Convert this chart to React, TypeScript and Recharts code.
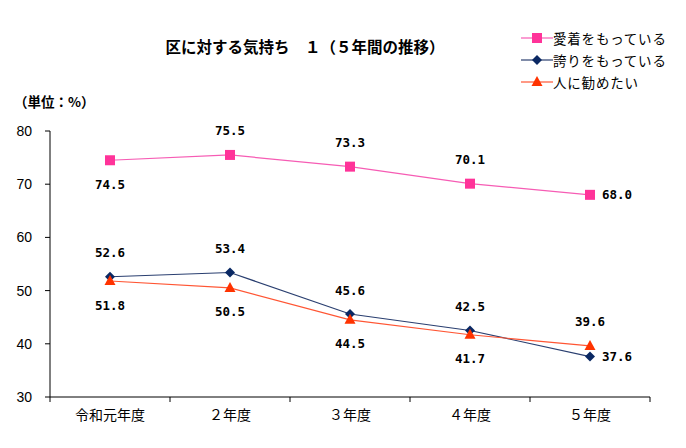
import React from 'react';
import { LineChart, Line, XAxis, YAxis, LabelList } from 'recharts';

const categories = ['令和元年度', '２年度', '３年度', '４年度', '５年度'];
const attachment = [74.5, 75.5, 73.3, 70.1, 68.0];
const pride = [52.6, 53.4, 45.6, 42.5, 37.6];
const recommend = [51.8, 50.5, 44.5, 41.7, 39.6];
const seriesNames = ['愛着をもっている', '誇りをもっている', '人に勧めたい'];
const yTicks = [30, 40, 50, 60, 70, 80];

const attachmentLabelPos = ['below', 'above', 'above', 'above', 'right'];
const prideLabelPos = ['above', 'above', 'above', 'above', 'right'];
const recommendLabelPos = ['below', 'below', 'below', 'below', 'above'];

const data = categories.map((c, i) => ({
  x: i + 0.5,
  name: c,
  attachment: attachment[i],
  pride: pride[i],
  recommend: recommend[i],
}));

const xTickValues = [0, 0.5, 1, 1.5, 2, 2.5, 3, 3.5, 4, 4.5, 5];

const PINK_LINE = '#f65cb4';
const PINK = '#ff3399';
const NAVY_LINE = '#2a3f70';
const NAVY = '#0a2863';
const RED_LINE = '#ff5533';
const RED = '#ff3300';

const JP = '"Noto Sans CJK JP", sans-serif';

const Square = (cx: number, cy: number, key?: any) => (
  <rect key={key} x={cx - 5} y={cy - 5} width={10} height={10} fill={PINK} />
);
const Diamond = (cx: number, cy: number, key?: any) => (
  <polygon key={key} points={`${cx},${cy - 5} ${cx + 5},${cy} ${cx},${cy + 5} ${cx - 5},${cy}`} fill={NAVY} />
);
const Triangle = (cx: number, cy: number, key?: any) => (
  <polygon key={key} points={`${cx},${cy - 6} ${cx + 5.5},${cy + 4} ${cx - 5.5},${cy + 4}`} fill={RED} />
);

const makeDot = (fn: any) => (props: any) => fn(props.cx, props.cy, `d-${props.index}`);

const makeLabel = (positions: string[]) => (props: any) => {
  const { x, y, value, index } = props;
  const pos = positions[index];
  let tx = x;
  let ty = y;
  let anchor: any = 'middle';
  if (pos === 'above') ty = y - 24;
  else if (pos === 'below') ty = y + 24;
  else {
    tx = x + 12;
    anchor = 'start';
  }
  return (
    <text
      key={`l-${index}`}
      x={tx}
      y={ty}
      textAnchor={anchor}
      dominantBaseline="central"
      fontFamily='"DejaVu Sans Mono", monospace'
      fontWeight="bold"
      fontSize={12.5}
      fill="#000"
    >
      {Number(value).toFixed(1)}
    </text>
  );
};

const XTick = (props: any) => {
  const { x, y, payload } = props;
  const v = payload.value;
  if (Number.isInteger(v)) {
    return <line x1={x} x2={x} y1={y} y2={y + 5} stroke="#000" strokeWidth={1} />;
  }
  return (
    <text x={x} y={y + 17} textAnchor="middle" dominantBaseline="central" fontFamily={JP} fontSize={14} fill="#000">
      {categories[Math.floor(v)]}
    </text>
  );
};

const LegendBlock = () => {
  const shapes = [Square, Diamond, Triangle];
  const colors = [PINK_LINE, NAVY_LINE, RED_LINE];
  return (
    <div style={{ position: 'absolute', left: 521, top: 27, width: 165 }}>
      {seriesNames.map((n, i) => (
        <div key={n} style={{ display: 'flex', alignItems: 'center', height: 22 }}>
          <svg width={32} height={14} style={{ display: 'block' }}>
            <line x1={0} x2={32} y1={7} y2={7} stroke={colors[i]} strokeWidth={1.2} />
            {shapes[i](16, 7)}
          </svg>
          <span style={{ fontFamily: JP, fontSize: 13.5, letterSpacing: 0.8, color: '#000', lineHeight: '22px', whiteSpace: 'nowrap' }}>{n}</span>
        </div>
      ))}
    </div>
  );
};

export default function App() {
  return (
    <div style={{ position: 'absolute', left: 0, top: 0, width: 686, height: 448, background: '#fff' }}>
      <LineChart width={686} height={448} data={data} margin={{ top: 131, right: 36, bottom: 0, left: 0 }}>
        <XAxis
          dataKey="x"
          type="number"
          domain={[0, 5]}
          ticks={xTickValues}
          interval={0}
          tickLine={false}
          tickSize={0}
          tickMargin={0}
          axisLine={{ stroke: '#000' }}
          tick={<XTick />}
          height={51}
        />
        <YAxis
          domain={[30, 80]}
          ticks={yTicks}
          interval={0}
          width={50}
          tickSize={5}
          tickMargin={13}
          axisLine={{ stroke: '#000' }}
          tickLine={{ stroke: '#000' }}
          tick={{ fill: '#000', fontSize: 14, fontFamily: '"Liberation Sans Narrow", "Liberation Sans", sans-serif' }}
        />
        <Line
          dataKey="attachment"
          name={seriesNames[0]}
          stroke={PINK_LINE}
          strokeWidth={1.2}
          dot={makeDot(Square)}
          activeDot={false}
          isAnimationActive={false}
        >
          <LabelList dataKey="attachment" content={makeLabel(attachmentLabelPos)} />
        </Line>
        <Line
          dataKey="pride"
          name={seriesNames[1]}
          stroke={NAVY_LINE}
          strokeWidth={1.2}
          dot={makeDot(Diamond)}
          activeDot={false}
          isAnimationActive={false}
        >
          <LabelList dataKey="pride" content={makeLabel(prideLabelPos)} />
        </Line>
        <Line
          dataKey="recommend"
          name={seriesNames[2]}
          stroke={RED_LINE}
          strokeWidth={1.2}
          dot={makeDot(Triangle)}
          activeDot={false}
          isAnimationActive={false}
        >
          <LabelList dataKey="recommend" content={makeLabel(recommendLabelPos)} />
        </Line>
      </LineChart>
      <div
        style={{
          position: 'absolute',
          left: 0,
          width: 610,
          top: 36,
          textAlign: 'center',
          fontFamily: JP,
          fontWeight: 'bold',
          fontSize: 15.5,
          lineHeight: '20px',
          color: '#000',
          whiteSpace: 'nowrap',
        }}
      >
        区に対する気持ち　１（５年間の推移）
      </div>
      <div
        style={{
          position: 'absolute',
          left: 14,
          top: 92,
          fontFamily: JP,
          fontWeight: 'bold',
          fontSize: 13.5,
          lineHeight: '18px',
          color: '#000',
          whiteSpace: 'nowrap',
        }}
      >
        （単位：%）
      </div>
      <LegendBlock />
    </div>
  );
}
